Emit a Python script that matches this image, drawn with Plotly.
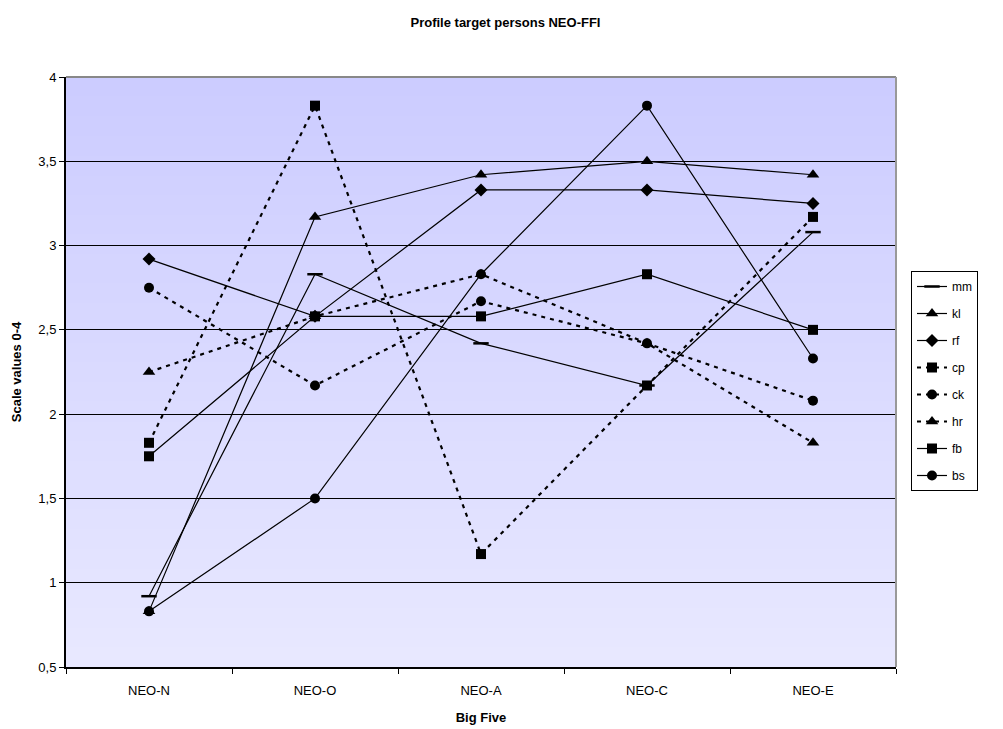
import plotly.graph_objects as go

categories = ["NEO-N", "NEO-O", "NEO-A", "NEO-C", "NEO-E"]

mm = [0.92, 2.83, 2.42, 2.17, 3.08]
kl = [0.83, 3.17, 3.42, 3.50, 3.42]
rf = [2.92, 2.58, 3.33, 3.33, 3.25]
cp = [1.83, 3.83, 1.17, 2.17, 3.17]
ck = [2.75, 2.17, 2.67, 2.42, 2.08]
hr = [2.25, 2.58, 2.83, 2.42, 1.83]
fb = [1.75, 2.58, 2.58, 2.83, 2.50]
bs = [0.83, 1.50, 2.83, 3.83, 2.33]

y_tickvals = [0.5, 1, 1.5, 2, 2.5, 3, 3.5, 4]
y_ticktext = ["0,5", "1", "1,5", "2", "2,5", "3", "3,5", "4"]

series = [
    ("mm", mm, "line-ew", "solid"),
    ("kl", kl, "triangle-up", "solid"),
    ("rf", rf, "diamond", "solid"),
    ("cp", cp, "square", "dash"),
    ("ck", ck, "circle", "dash"),
    ("hr", hr, "triangle-up", "dash"),
    ("fb", fb, "square", "solid"),
    ("bs", bs, "circle", "solid"),
]

# page body has an 8px margin: compensate
W, H = 995, 721

fig = go.Figure()
for name, vals, sym, dash in series:
    dashed = dash == "dash"
    if sym == "line-ew":
        marker = dict(symbol=sym, size=11, color="black", line=dict(width=2.5, color="black"))
    else:
        sz = {"square": 10, "circle": 10, "diamond": 10, "triangle-up": 11}[sym]
        marker = dict(symbol=sym, size=sz, color="black", line=dict(width=0))
    fig.add_trace(go.Scatter(
        x=categories, y=vals, name=name, legendgroup=name, mode="lines+markers",
        line=dict(color="black", width=2.2 if dashed else 1.2,
                  dash="4px,5px" if dashed else "solid"),
        marker=marker,
    ))

# gradient background (dark lavender on top to lighter at bottom)
n = 60
top = (204, 204, 255)
bot = (232, 232, 255)
shapes = []
for i in range(n):
    t = i / (n - 1)
    r = round(bot[0] + (top[0] - bot[0]) * t)
    g = round(bot[1] + (top[1] - bot[1]) * t)
    shapes.append(dict(type="rect", xref="paper", yref="paper",
                       x0=0, x1=1, y0=i / n, y1=min(1, (i + 1.6) / n),
                       fillcolor=f"rgb({r},{g},255)", line=dict(width=0),
                       layer="below"))
# gray frame top/right
shapes.append(dict(type="line", xref="paper", yref="paper", x0=0, x1=1, y0=1, y1=1,
                   line=dict(color="#888888", width=2)))
shapes.append(dict(type="line", xref="paper", yref="paper", x0=1, x1=1, y0=0, y1=1,
                   line=dict(color="#999999", width=2)))

fig.update_layout(
    width=W, height=H,
    paper_bgcolor="white", plot_bgcolor="rgba(0,0,0,0)",
    margin=dict(l=58, r=107, t=69, b=62, autoexpand=False),
    shapes=shapes,
    title=dict(text="<b>Profile target persons NEO-FFI</b>", x=0.5, xanchor="center",
               y=1 - 14 / H, yanchor="middle",
               font=dict(family="Liberation Sans, Arial", size=13, color="black")),
    font=dict(family="Liberation Sans, Arial", size=13, color="black"),
    showlegend=True,
    legend=dict(x=1.0 + 15 / 830, xanchor="left", y=(H - 62 - 263) / 590, yanchor="top",
                bgcolor="white", bordercolor="black", borderwidth=1,
                font=dict(size=12, color="black"), tracegroupgap=8),
    xaxis=dict(type="category", tickson="boundaries", ticks="outside", ticklen=5,
               tickcolor="black", showline=True, linecolor="black", linewidth=2,
               showgrid=False, range=[-0.5, 4.5], automargin=False,
               ticklabelstandoff=10,
               title=dict(text="<b>Big Five</b>", font=dict(size=13), standoff=16),
               tickfont=dict(size=13)),
    yaxis=dict(range=[0.5, 4], tickvals=y_tickvals, ticktext=y_ticktext,
               ticks="outside", ticklen=5, tickcolor="black", automargin=False,
               showline=True, linecolor="black", linewidth=2,
               showgrid=True, gridcolor="black", gridwidth=1, zeroline=False,
               title=dict(text="<b>Scale values 0-4</b>", font=dict(size=13), standoff=14),
               tickfont=dict(size=13)),
)

fig.write_html("out.html")
